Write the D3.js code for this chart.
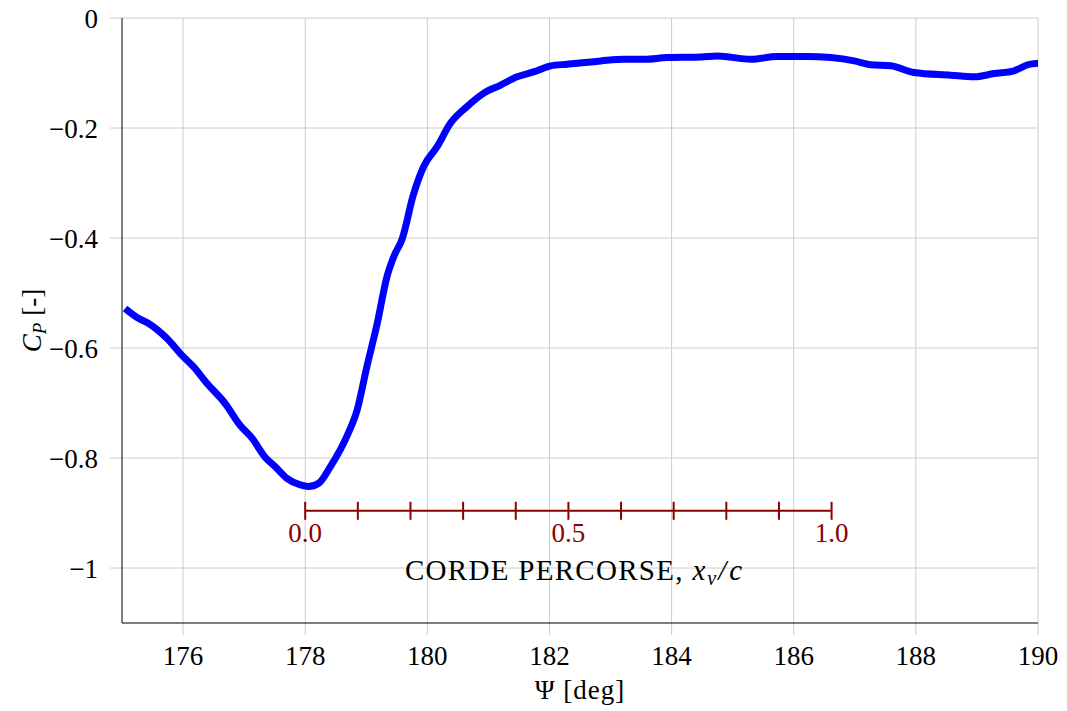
<!DOCTYPE html>
<html>
<head>
<meta charset="utf-8">
<script src="https://cdn.jsdelivr.net/npm/d3@7"></script>
<style>
  body { margin: 0; background: #fff; }
</style>
</head>
<body>
<svg id="chart" width="1067" height="711" font-family="'Liberation Serif'"></svg>
<script>
// Pressure coefficient along azimuth
const psi = [175.05, 175.27, 175.43, 175.73, 175.98, 176.17, 176.39, 176.69, 176.93, 177.13,
  177.34, 177.51, 177.70, 177.92, 178.05, 178.22, 178.41, 178.68, 178.85, 179.01,
  179.18, 179.34, 179.45, 179.59, 179.77, 179.94, 180.16, 180.38, 180.65, 180.92,
  181.20, 181.47, 181.74, 182.02, 182.29, 182.84, 183.22, 183.55, 183.93, 184.48,
  184.75, 185.30, 185.73, 186.22, 186.61, 186.99, 187.26, 187.59, 187.97, 188.57,
  188.96, 189.28, 189.61, 189.83, 190.02];
const cp = [-0.528, -0.546, -0.555, -0.582, -0.613, -0.634, -0.664, -0.701, -0.740, -0.764,
  -0.798, -0.816, -0.837, -0.849, -0.852, -0.846, -0.816, -0.761, -0.713, -0.634,
  -0.555, -0.470, -0.434, -0.401, -0.322, -0.270, -0.234, -0.191, -0.161, -0.137,
  -0.122, -0.107, -0.098, -0.087, -0.084, -0.078, -0.075, -0.075, -0.072, -0.071,
  -0.069, -0.075, -0.070, -0.070, -0.072, -0.078, -0.085, -0.087, -0.099, -0.104,
  -0.107, -0.101, -0.096, -0.085, -0.082];

const xTicks = [176, 178, 180, 182, 184, 186, 188, 190];
const yTicks = [0, -0.2, -0.4, -0.6, -0.8, -1];

// chord-travel scale drawn inside the plot
const chordPsi = [178, 186.62];
const chordLevel = -0.896;
const chordTicks = d3.range(0, 1.0001, 0.1);
const chordLabels = [0, 0.5, 1];

const margin = { left: 122, right: 29, top: 18, bottom: 88 };
const width = 1067, height = 711;
const red = "#8b0000";
const fs = "27px";

const svg = d3.select("#chart");

const x = d3.scaleLinear().domain([175, 190]).range([margin.left, width - margin.right]);
const y = d3.scaleLinear().domain([-1.1, 0]).range([height - margin.bottom, margin.top]);

const fmtY = d => d === 0 ? "0" : "\u2212" + d3.format("")(Math.abs(d));

// grid lines
svg.append("g").selectAll("line")
  .data(xTicks).enter().append("line")
  .attr("x1", d => x(d)).attr("x2", d => x(d))
  .attr("y1", y(0)).attr("y2", y(-1.1) + 12)
  .attr("stroke", "#cccccc").attr("stroke-width", 1);

svg.append("g").selectAll("line")
  .data(yTicks).enter().append("line")
  .attr("x1", x(175) - 12).attr("x2", x(190))
  .attr("y1", d => y(d)).attr("y2", d => y(d))
  .attr("stroke", "#cccccc").attr("stroke-width", 1);

// axis lines
svg.append("line")
  .attr("x1", x(175)).attr("x2", x(175))
  .attr("y1", y(0)).attr("y2", y(-1.1))
  .attr("stroke", "#000").attr("stroke-width", 1);
svg.append("line")
  .attr("x1", x(175)).attr("x2", x(190))
  .attr("y1", y(-1.1)).attr("y2", y(-1.1))
  .attr("stroke", "#000").attr("stroke-width", 1);

// tick labels
svg.append("g").selectAll("text")
  .data(xTicks).enter().append("text")
  .attr("x", d => x(d)).attr("y", y(-1.1) + 42)
  .attr("text-anchor", "middle")
  .style("font-size", fs)
  .text(d => d);

svg.append("g").selectAll("text")
  .data(yTicks).enter().append("text")
  .attr("x", x(175) - 24).attr("y", d => y(d) + 10)
  .attr("text-anchor", "end")
  .style("font-size", fs)
  .text(fmtY);

// axis titles
svg.append("text")
  .attr("x", 580).attr("y", 699)
  .attr("text-anchor", "middle")
  .style("font-size", fs)
  .style("letter-spacing", "1px")
  .text("\u03A8 [deg]");

const yt = svg.append("text")
  .attr("transform", `translate(41, ${y(-0.55)}) rotate(-90)`)
  .attr("text-anchor", "middle")
  .style("font-size", fs);
yt.append("tspan").style("font-style", "italic").text("C");
yt.append("tspan").style("font-style", "italic").style("font-size", "19px").attr("dy", 5).text("P");
yt.append("tspan").attr("dy", -5).text(" [-]");

// curve
const pts = psi.map((p, i) => [p, cp[i]]);
svg.append("defs").append("clipPath").attr("id", "clip")
  .append("rect")
  .attr("x", x(175)).attr("y", y(0))
  .attr("width", x(190) - x(175)).attr("height", y(-1.1) - y(0));

svg.append("path")
  .datum(pts)
  .attr("clip-path", "url(#clip)")
  .attr("fill", "none")
  .attr("stroke", "#0000ff")
  .attr("stroke-width", 7)
  .attr("stroke-linejoin", "round")
  .attr("d", d3.line().x(d => x(d[0])).y(d => y(d[1])).curve(d3.curveMonotoneX));

// chord scale
const c = d3.scaleLinear().domain([0, 1]).range([x(chordPsi[0]), x(chordPsi[1])]);
const cy = y(chordLevel);
svg.append("line")
  .attr("x1", c(0)).attr("x2", c(1))
  .attr("y1", cy).attr("y2", cy)
  .attr("stroke", red).attr("stroke-width", 2);
svg.append("g").selectAll("line")
  .data(chordTicks).enter().append("line")
  .attr("x1", d => c(d)).attr("x2", d => c(d))
  .attr("y1", cy - 9).attr("y2", cy + 9)
  .attr("stroke", red).attr("stroke-width", 2);
svg.append("g").selectAll("text")
  .data(chordLabels).enter().append("text")
  .attr("x", d => c(d)).attr("y", cy + 31)
  .attr("text-anchor", "middle")
  .attr("fill", red)
  .style("font-size", fs)
  .text(d => d3.format(".1f")(d));

const ct = svg.append("text")
  .attr("x", 575).attr("y", cy + 69)
  .attr("text-anchor", "middle")
  .style("font-size", "29px");
ct.append("tspan").style("letter-spacing", "1.3px").text("CORDE PERCORSE, ");
ct.append("tspan").style("font-style", "italic").style("letter-spacing", "2px").text("x");
ct.append("tspan").style("font-style", "italic").style("font-size", "20px").style("letter-spacing", "2px").attr("dy", 5).text("v");
ct.append("tspan").attr("dy", -5).style("font-style", "italic").style("letter-spacing", "3px").text("/c");
</script>
</body>
</html>
